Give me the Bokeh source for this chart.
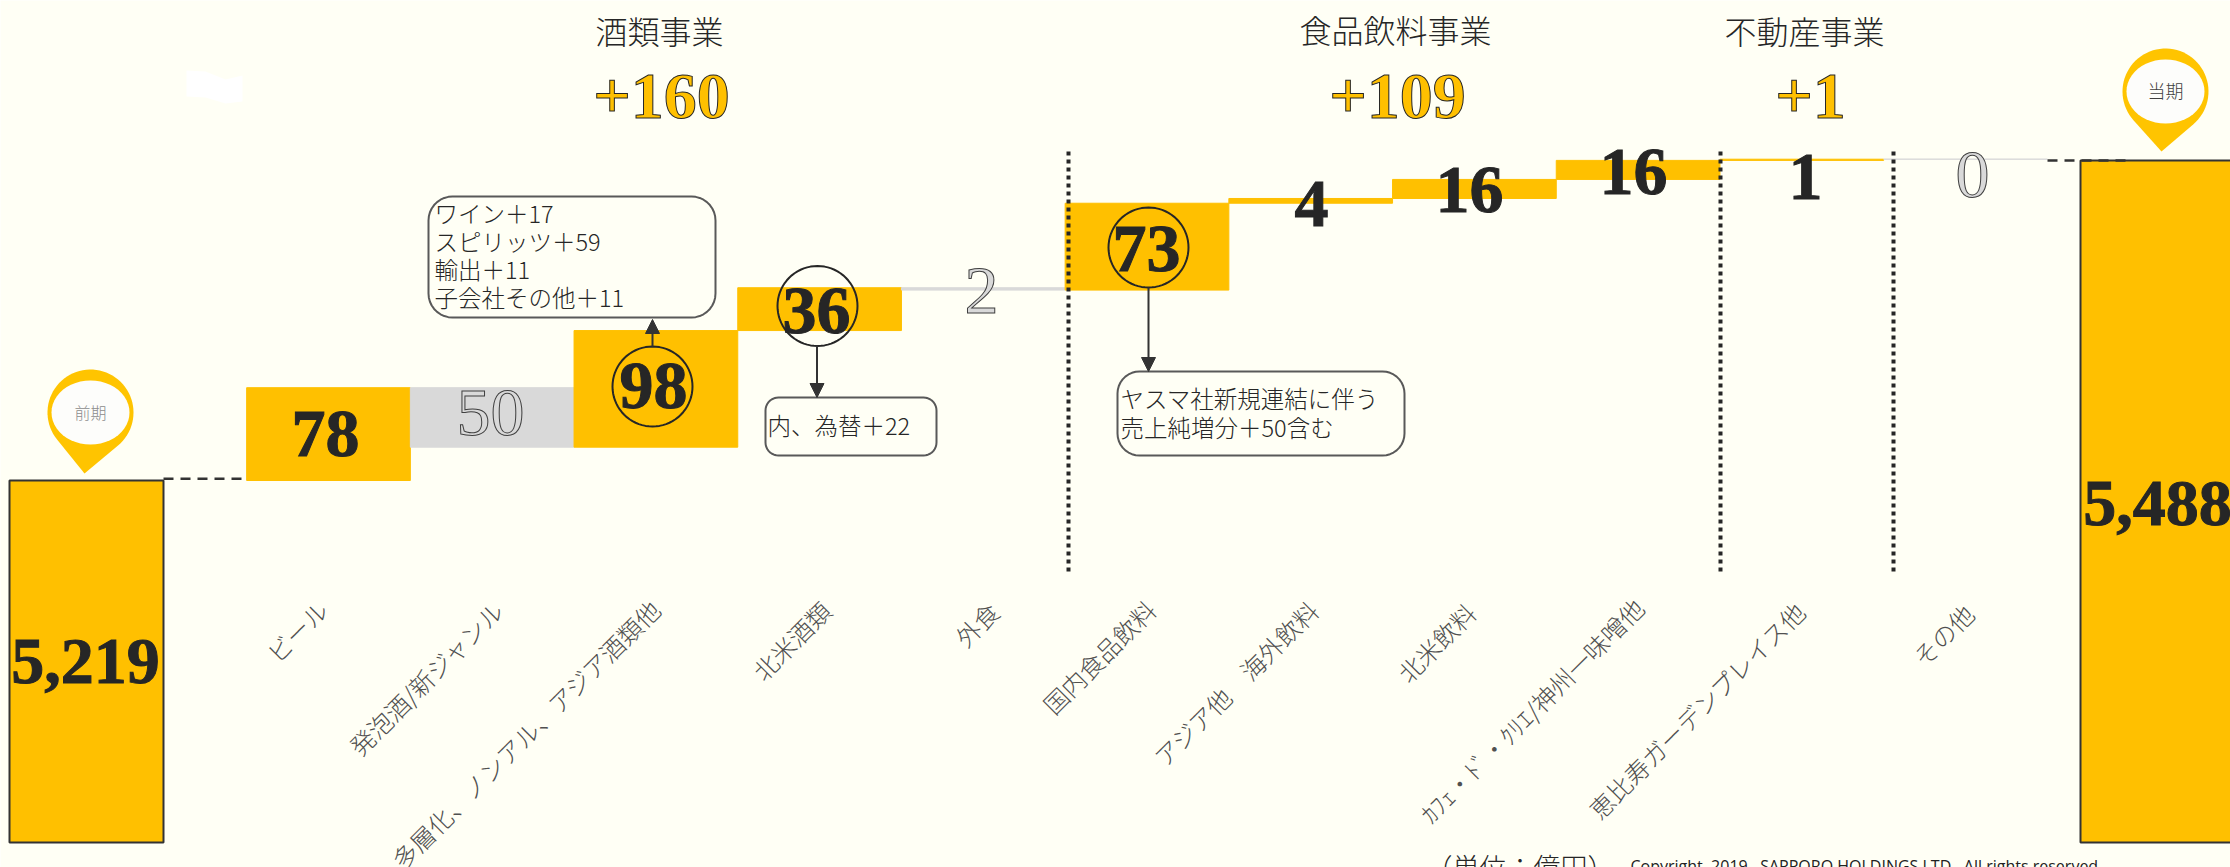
import numpy as np
from bokeh.plotting import figure
from bokeh.models import Range1d, Arrow, NormalHead
from bokeh.core.properties import value
from bokeh.embed import file_html
from bokeh.resources import INLINE

# ---- data ----
categories = ["ビール", "発泡酒/新ジャンル", "多層化、ノンアル、アジア酒類他", "北米酒類", "外食",
              "国内食品飲料", "アジア他　海外飲料", "北米飲料", "ｶﾌｪ・ﾄﾞ・ｸﾘｴ/神州一味噌他",
              "恵比寿ガーデンプレイス他", "その他"]
deltas = [78, -50, 98, 36, -2, 73, 4, 16, 16, 1, 0]
start_value = 5219
end_value = 5488
start_label = "5,219"
end_label = "5,488"
segments = ["酒類事業", "食品飲料事業", "不動産事業"]
segment_totals = ["+160", "+109", "+1"]
callout_1 = ["ワイン＋17", "スピリッツ＋59", "輸出＋11", "子会社その他＋11"]
callout_2 = ["内、為替＋22"]
callout_3 = ["ヤスマ社新規連結に伴う", "売上純増分＋50含む"]

# ---- layout ----
W, H = 2230, 867
BG, GOLD, GREY, INK = "#FFFFF5", "#FFC000", "#D9D9D9", "#262626"
SERIF = value("Liberation Serif")
SANS = value("'Noto Sans CJK JP Light', 'Noto Sans CJK JP'")
def X(px): return (np.asarray(px, float) - 328) / 163.7 + 1
def Y(py): return start_value + (480 - np.asarray(py, float)) / 1.19

p = figure(width=W, height=H, output_backend="svg", toolbar_location=None,
           x_range=Range1d(float(X(0)), float(X(W))), y_range=Range1d(float(Y(H)), float(Y(0))),
           background_fill_color=BG, border_fill_color=BG, outline_line_color=None,
           min_border=0)
p.axis.visible = False
p.grid.visible = False

# waterfall floating bars
idx = np.arange(1, len(deltas) + 1)
levels = start_value + np.cumsum(deltas)
tops = np.maximum(levels, levels - np.array(deltas))
bots = np.minimum(levels, levels - np.array(deltas))
cols = [GOLD if d > 0 else GREY for d in deltas]
p.quad(left=idx - 0.5, right=idx + 0.5, top=tops, bottom=bots, fill_color=cols, line_color=cols, line_width=1)

# end bars
base = float(Y(842))
p.quad(left=[float(X(9)), float(X(2080))], right=[float(X(163)), float(X(2240))],
       top=[start_value, end_value], bottom=[base, base],
       fill_color=GOLD, line_color="#333333", line_width=2)

# connectors
p.line(X([163, 246]), [start_value + 1.5] * 2, line_color="#333333", line_width=2.5, line_dash="10 7")
p.line(X([2047, 2132]), [end_value] * 2, line_color="#333333", line_width=2.5, line_dash="10 7")

# separators
for sx in (1068, 1720, 1893):
    p.line(X([sx, sx]), Y([151, 573]), line_color="#262626", line_width=4, line_dash="4 4")

# rounded callouts
def rounded(x0, y0, x1, y1, r=22):
    t = np.linspace(0, np.pi / 2, 10)
    xs = np.r_[x1 - r + r * np.sin(t), x1 - r + r * np.cos(t), x0 + r - r * np.sin(t), x0 + r - r * np.cos(t)]
    ys = np.r_[y0 + r - r * np.cos(t), y1 - r + r * np.sin(t), y1 - r + r * np.cos(t), y0 + r - r * np.sin(t)]
    return X(xs), Y(ys)
for (b, r) in (((428, 196, 715, 317), 24), ((765, 397, 936, 455), 13), ((1117, 371, 1404, 455), 22)):
    xs, ys = rounded(*b, r)
    p.patch(xs, ys, fill_color=None, line_color="#595959", line_width=2)

def lines(txts, x, ys, size=23.5):
    p.text(X([x] * len(txts)), Y(ys), text=txts, text_font=SANS, text_font_size=f"{size}px",
           text_color=INK, text_align="left", text_baseline="middle")
lines(callout_1, 434, [212, 240, 268, 296])
lines(callout_2, 767, [424])
lines(callout_3, 1120, [397, 426])

# circles & arrows
for cx, cy in ((652, 386), (817, 305.5), (1148, 247)):
    t = np.linspace(0, 2 * np.pi, 73)
    p.line(X(cx + 40 * np.cos(t)), Y(cy + 40 * np.sin(t)), line_color="#262626", line_width=2)
for ax, y0, y1 in ((652, 346, 319), (816.5, 345, 397), (1148, 287, 371)):
    p.add_layout(Arrow(end=NormalHead(size=14, fill_color="#333333", line_color="#333333"),
                       x_start=float(X(ax)), y_start=float(Y(y0)), x_end=float(X(ax)), y_end=float(Y(y1)),
                       line_color="#333333", line_width=2))

# value labels
lab_x = [325, 490, 653, 816, 981, 1146, 1311, 1469, 1633, 1805, 1972]
lab_y = [433, 412, 385, 310, 290, 248, 203, 189, 171, 176, 174]
for i, d in enumerate(deltas):
    kw = dict(text_color=INK, text_font_style="bold", text_outline_color=INK) if d > 0 else dict(
        text_color=GREY, text_outline_color="#404040", text_font_style="normal")
    p.text(X([lab_x[i]]), Y([lab_y[i]]), text=[str(abs(d))], text_font=SERIF, text_font_size="68px",
           text_align="center", text_baseline="middle", **kw)
p.text(X([85, 2157]), Y([661, 503]), text=[start_label, end_label], text_font=SERIF, text_font_size="66px",
       text_color=INK, text_outline_color=INK, text_font_style="bold", text_align="center", text_baseline="middle")

# segment headers
p.text(X([659, 1395, 1804]), Y([29, 28, 29]), text=segments, text_font=SANS, text_font_size="32px",
       text_color=INK, text_align="center", text_baseline="middle")
p.text(X([661, 1397, 1810]), Y([96, 96, 96]), text=segment_totals, text_font=SERIF, text_font_size="66px",
       text_color=GOLD, text_outline_color="#262626", text_font_style="bold",
       text_align="center", text_baseline="middle")

# category labels, rotated
end_x = [331, 507, 664, 834, 1002, 1159, 1322, 1479, 1647, 1809, 1977]
end_y = [596, 596, 595, 597, 598, 596, 596, 599, 594, 597, 600]
p.text(X(np.array(end_x) - 8.5), Y(np.array(end_y) + 8.5), text=categories, angle=45, angle_units="deg",
       text_font=SANS, text_font_size="24.5px", text_color="#505050", text_align="right", text_baseline="middle")

# map pins
def pin(cx, cy, r, tipx, tipy):
    a0 = np.arccos(r / np.hypot(tipx - cx, tipy - cy))
    a = np.arctan2(tipy - cy, tipx - cx)
    t = np.linspace(a + a0, a + 2 * np.pi - a0, 60)
    return X(np.r_[cx + r * np.cos(t), tipx]), Y(np.r_[cy + r * np.sin(t), tipy])
for cx, cy, tx, ty, ix, iy in ((90, 412, 84, 473, 90, 412), (2165, 91, 2161, 151, 2165, 91)):
    xs, ys = pin(cx, cy - 0, 43, tx, ty)
    p.patch(xs, ys, fill_color="#FFC400", line_color=None)
    t = np.linspace(0, 2 * np.pi, 49)
    p.patch(X(ix + 39 * np.cos(t)), Y(iy + 32 * np.sin(t)), fill_color="#FDFDFB", line_color=None)
p.text(X([90]), Y([411]), text=["前期"], text_font=SANS, text_font_size="16px", text_color="#8C8C8C",
       text_align="center", text_baseline="middle")
p.text(X([2165]), Y([89]), text=["当期"], text_font=SANS, text_font_size="18px", text_color="#404040",
       text_align="center", text_baseline="middle")

# faint white flag shape
p.patch(X([186, 205, 225, 242, 242, 225, 205, 186]), Y([70, 71, 79, 75, 101, 103, 97, 96]),
        fill_color="#FFFFFF", line_color=None)

# footers
p.text(X([1425]), Y([866]), text=["（単位：億円）"], text_font=SANS, text_font_size="27px",
       text_color=INK, text_align="left", text_baseline="middle")
p.text(X([1630]), Y([865]), text=["Copyright\u00a0\u00a02019\u00a0\u00a0\u00a0SAPPORO HOLDINGS LTD.\u00a0\u00a0All rights reserved"],
       text_font=value("Open Sans"), text_font_size="16px", text_color="#222222",
       text_align="left", text_baseline="middle")

open("out.html", "w").write(file_html(p, INLINE))
